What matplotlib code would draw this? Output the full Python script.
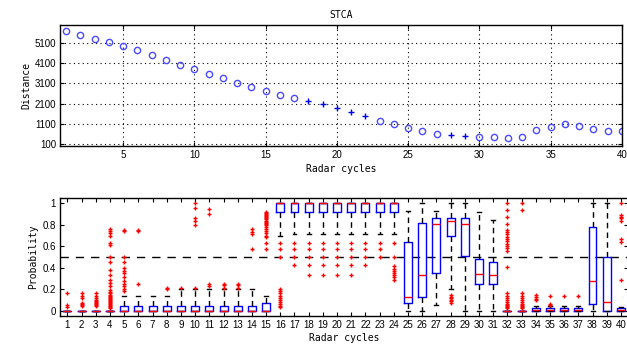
import matplotlib
matplotlib.use('Agg')
import matplotlib.pyplot as plt
import numpy as np

# ---- top panel: distance per radar cycle
cycles = np.arange(1, 41)
distance = [5720, 5520, 5320, 5160, 4960, 4760, 4510, 4260, 4015, 3800,
            3550, 3350, 3135, 2935, 2740, 2540, 2375, 2225, 2075, 1875,
            1705, 1510, 1260, 1095, 910, 760, 600, 550, 500, 465,
            465, 400, 465, 800, 945, 1080, 1010, 860, 745, 760]
# 1 = cycles drawn with '+' in the original
flagged = [0] * 17 + [1] * 5 + [0] * 5 + [1, 1] + [0] * 11
dist_ticks = [100, 1100, 2100, 3100, 4100, 5100]

# ---- bottom panel: probability box stats per radar cycle
q1 = [0, 0, 0, 0, 0, 0, 0, 0, 0, 0,
      0, 0, 0, 0, 0, 0.92, 0.92, 0.92, 0.92, 0.92,
      0.92, 0.92, 0.92, 0.92, 0.075, 0.13, 0.35, 0.695, 0.51, 0.25,
      0.245, 0, 0, 0, 0, 0, 0, 0.06, 0, 0]
med = [0, 0, 0, 0, 0, 0, 0, 0, 0, 0,
       0, 0, 0, 0, 0, 1, 1, 1, 1, 1,
       1, 1, 1, 1, 0.13, 0.33, 0.81, 0.84, 0.81, 0.345,
       0.335, 0, 0, 0.005, 0.005, 0.005, 0.005, 0.28, 0.085, 0.005]
q3 = [0, 0, 0, 0, 0.04, 0.04, 0.04, 0.04, 0.04, 0.04,
      0.04, 0.04, 0.04, 0.04, 0.075, 1, 1, 1, 1, 1,
      1, 1, 1, 1, 0.64, 0.82, 0.86, 0.86, 0.86, 0.48,
      0.45, 0, 0, 0.02, 0.02, 0.02, 0.02, 0.78, 0.5, 0.02]
whislo = [0, 0, 0, 0, 0, 0, 0, 0, 0, 0,
          0, 0, 0, 0, 0, 0.70, 0.71, 0.71, 0.71, 0.71,
          0.71, 0.71, 0.71, 0.71, 0, 0, 0.056, 0.2, 0, 0,
          0, 0, 0, 0, 0, 0, 0, 0, 0, 0]
whishi = [0, 0, 0, 0, 0.14, 0.14, 0.14, 0.14, 0.2, 0.2,
          0.2, 0.2, 0.2, 0.2, 0.14, 1, 1, 1, 1, 1,
          1, 1, 1, 1, 0.93, 1, 0.93, 1, 1, 0.915,
          0.845, 0, 0, 0.04, 0.04, 0.04, 0.04, 1, 1, 0.03]
outliers = [
    [0.16, 0.05, 0.035],
    [0.16, 0.14, 0.12, 0.07, 0.06, 0.05, 0.04],
    [0.16, 0.14, 0.12, 0.10, 0.09, 0.08, 0.07, 0.06, 0.05, 0.04],
    [0.76, 0.74, 0.72, 0.70, 0.63, 0.61, 0.50, 0.45, 0.38, 0.33, 0.29, 0.26,
     0.23, 0.19, 0.17, 0.16, 0.15, 0.14, 0.13, 0.12, 0.11, 0.10, 0.09, 0.08,
     0.07, 0.06, 0.05, 0.04, 0.03, 0.02],
    [0.75, 0.74, 0.50, 0.45, 0.40, 0.37, 0.35, 0.31, 0.28, 0.25, 0.23, 0.20, 0.18],
    [0.75, 0.74, 0.25],
    [],
    [0.215, 0.20],
    [0.215],
    [1.0, 0.96, 0.86, 0.84, 0.80, 0.215],
    [0.95, 0.90, 0.25, 0.23],
    [0.25, 0.235, 0.215],
    [0.25, 0.235, 0.215],
    [0.76, 0.735, 0.71, 0.57],
    [0.92, 0.91, 0.90, 0.89, 0.88, 0.87, 0.86, 0.85, 0.84, 0.83, 0.82, 0.81,
     0.80, 0.78, 0.76, 0.74, 0.72, 0.70, 0.69, 0.63, 0.57],
    [0.63, 0.57, 0.50, 0.20, 0.18, 0.16, 0.14, 0.12, 0.10, 0.08, 0.06, 0.04, 0.03],
    [0.63, 0.57, 0.50, 0.43],
    [0.63, 0.57, 0.50, 0.43, 0.335],
    [0.63, 0.57, 0.50, 0.43, 0.335],
    [0.63, 0.57, 0.50, 0.43, 0.335],
    [0.63, 0.57, 0.50, 0.43, 0.335],
    [0.63, 0.57, 0.50, 0.43],
    [0.63, 0.57, 0.50],
    [0.63, 0.50, 0.42, 0.39, 0.37, 0.35, 0.33, 0.31, 0.29],
    [],
    [],
    [],
    [0.15, 0.13, 0.12, 0.10, 0.09, 0.07],
    [],
    [],
    [],
    [1.0, 0.94, 0.875, 0.81, 0.75, 0.73, 0.71, 0.69, 0.67, 0.65, 0.62, 0.60,
     0.58, 0.56, 0.41, 0.16, 0.14, 0.12, 0.10, 0.08, 0.06, 0.05, 0.04, 0.03, 0.02],
    [1.0, 0.94, 0.16, 0.14, 0.12, 0.10, 0.08, 0.06, 0.05, 0.04, 0.03, 0.02],
    [0.15, 0.13, 0.11, 0.10],
    [0.14, 0.06, 0.05],
    [0.14],
    [0.14],
    [],
    [],
    [1.0, 0.89, 0.87, 0.86, 0.84, 0.67, 0.64, 0.29],
]
threshold = 0.5

label_font = dict(family='DejaVu Sans Mono', size=7)
tick_font = 'Liberation Sans'

fig = plt.figure(figsize=(6.27, 3.48), dpi=100)

# top axes
ax1 = fig.add_axes([0.0962, 0.5805, 0.8958, 0.3477])
x = np.array(cycles)
d = np.array(distance)
f = np.array(flagged) == 1
ax1.plot(x[~f], d[~f], 'o', mfc='none', mec='#4a4aff', ms=4.5, mew=1)
ax1.plot(x[f], d[f], '+', color='#0000ee', ms=5, mew=1)
ax1.set_xlim(0.6, 40)
ax1.set_ylim(0, 6000)
ax1.set_yticks(dist_ticks)
ax1.set_xticks(np.arange(5, 41, 5))
ax1.grid(True, color='black', linestyle=(0, (1, 3)), linewidth=0.8)
ax1.set_title('STCA', fontdict=label_font, pad=5)
ax1.set_ylabel('Distance', fontdict=label_font, labelpad=2)
ax1.set_xlabel('Radar cycles', fontdict=label_font, labelpad=3)

# bottom axes
ax2 = fig.add_axes([0.0962, 0.092, 0.9054, 0.339])
stats = []
for i in range(len(cycles)):
    stats.append(dict(q1=q1[i], med=med[i], q3=q3[i],
                      whislo=whislo[i], whishi=whishi[i], fliers=outliers[i]))
ax2.axhline(threshold, color='black', linestyle=(0, (6, 5)), linewidth=1, zorder=1)
ax2.bxp(stats, positions=cycles, widths=0.56, capwidths=0.28,
        boxprops=dict(color='blue', linewidth=1),
        medianprops=dict(color='red', linewidth=1),
        whiskerprops=dict(color='black', linestyle=(0, (4, 3)), linewidth=1),
        capprops=dict(color='black', linewidth=1),
        flierprops=dict(marker='+', markeredgecolor='red', markersize=3.5,
                        markeredgewidth=1, linestyle='none'))
ax2.set_xlim(0.5, 40.5)
ax2.set_ylim(-0.05, 1.05)
ax2.set_yticks([0, 0.2, 0.4, 0.6, 0.8, 1])
ax2.set_yticklabels(['0', '0.2', '0.4', '0.6', '0.8', '1'])
ax2.set_xticks(cycles)
ax2.set_xticklabels([str(c) for c in cycles])
ax2.set_ylabel('Probability', fontdict=label_font, labelpad=3)
ax2.set_xlabel('Radar cycles', fontdict=label_font, labelpad=2)

for ax in (ax1, ax2):
    ax.tick_params(direction='in', length=3, width=0.8, top=True, right=True,
                   labelsize=7, pad=3)
    for lab in ax.get_xticklabels() + ax.get_yticklabels():
        lab.set_family(tick_font)
    for s in ax.spines.values():
        s.set_linewidth(1)

fig.savefig('out.png', dpi=100)
